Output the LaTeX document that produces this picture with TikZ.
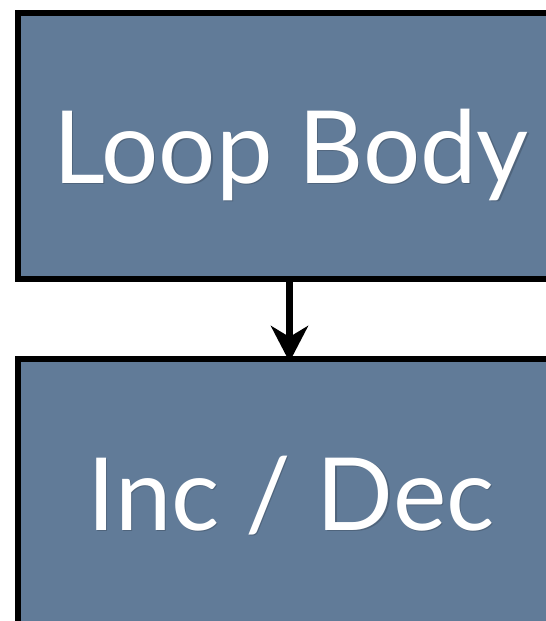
\documentclass[tikz,border=0pt]{standalone}
\usepackage{fontspec}
\setmainfont{Lato}
\usetikzlibrary{arrows.meta}
\definecolor{slate}{RGB}{97,123,152}
\tikzset{
  block/.style={draw=black, line width=6pt, fill=slate, rectangle,
    outer sep=0pt, inner sep=0pt, minimum width=547.5pt},
  caption/.style={text=white, anchor=base, inner sep=0pt,
    font=\fontsize{101}{110}\selectfont},
  shade/.style={caption, text=black, opacity=0.18},
  flow/.style={line width=6.5pt, -{Stealth[length=36pt, width=37pt, inset=11pt]}}
}
\begin{document}
\begin{tikzpicture}[x=1pt, y=-1pt]
  \useasboundingbox (0,0) rectangle (546,621);
  \fill[white] (0,0) rectangle (546,621);
  \clip (0,0) rectangle (546,621);

  % the two stages
  \node[block, minimum height=266.5pt] (body) at (291.25,145.75) {};
  \node[block, minimum height=271pt] (step) at (291.25,494.5) {};

  % labels with a soft drop shadow
  \node[shade] at (292.5,184.5) {Loop Body};
  \node[caption] (bodytext) at (291,183) {Loop Body};
  \node[shade] at (292.5,531.5) {Inc / Dec};
  \node[caption] (steptext) at (291,530) {Inc / Dec};

  % control flow
  \draw[flow] ([xshift=-1.75pt]body.south) -- ([xshift=-1.75pt, yshift=-3pt]step.north);
\end{tikzpicture}
\end{document}
